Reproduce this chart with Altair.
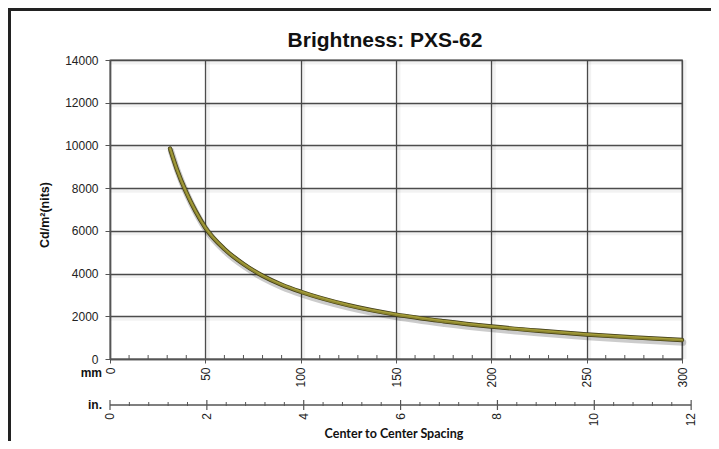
import altair as alt
import pandas as pd

# ---- data ----
spacing_mm = [31.5, 35, 40, 45, 50, 60, 70, 80, 90, 100, 125, 150, 175, 200, 225, 250, 275, 300]
brightness = [9850, 8900, 7800, 6900, 6150, 5150, 4450, 3900, 3480, 3150, 2520, 2080, 1770, 1520, 1320, 1150, 1010, 890]

mm_major = [0, 50, 100, 150, 200, 250, 300]
mm_minor = [v for v in range(10, 300, 10) if v % 50 != 0]
y_major = [0, 2000, 4000, 6000, 8000, 10000, 12000, 14000]
in_major = [0, 2, 4, 6, 8, 10, 12]
in_minor = [round(i * 0.4, 1) for i in range(1, 30) if round(i * 0.4, 1) % 2 != 0]

W, H = 572, 299
FONT = "Liberation Sans"

curve = pd.DataFrame({"mm": spacing_mm, "nits": brightness})
xs = alt.Scale(domain=[0, 300], nice=False, zero=False)
ys = alt.Scale(domain=[0, 14000], nice=False)

XAX = alt.Axis(values=mm_major, grid=True, gridColor="#4d4d4d", gridWidth=1.3,
               labelAngle=270, labelAlign="right", labelBaseline="middle", format="d",
               labelPadding=4, tickSize=4, tickColor="#555", domainColor="#555",
               domainWidth=1.5, labelFont=FONT, labelFontSize=12, labelColor="#222",
               title=None)
YAX = alt.Axis(values=y_major, grid=True, gridColor="#4d4d4d", gridWidth=1.3, format="d",
               tickSize=5, labelPadding=7, tickColor="#555", domainColor="#555",
               domainWidth=1.5, labelFont=FONT, labelFontSize=12, labelColor="#222",
               title=None)


def X(field):
    return alt.X(field, scale=xs, axis=XAX)


def Y(field):
    return alt.Y(field, scale=ys, axis=YAX)


# soft grid shadows
gx = pd.DataFrame({"mm": mm_major[1:]})
gy = pd.DataFrame({"nits": y_major[1:]})
shadow_v = alt.Chart(gx).mark_rule(color="#000", opacity=0.05, strokeWidth=4, xOffset=2.5).encode(
    x=X("mm:Q"))
shadow_h = alt.Chart(gy).mark_rule(color="#000", opacity=0.05, strokeWidth=4, yOffset=2.5).encode(
    y=Y("nits:Q"))

base = alt.Chart(curve)
line_shadow = base.mark_line(color="#000", opacity=0.2, strokeWidth=6.5, interpolate="monotone",
                             yOffset=2.5, xOffset=1, strokeCap="round").encode(x=X("mm:Q"), y=Y("nits:Q"))
line_dark = base.mark_line(color="#3f3b18", strokeWidth=4.4, interpolate="monotone",
                           strokeCap="round").encode(x=X("mm:Q"), y=Y("nits:Q"))
line_main = base.mark_line(color="#8c852f", strokeWidth=3, interpolate="monotone",
                           strokeCap="round").encode(x=X("mm:Q"), y=Y("nits:Q"))
line_hi = base.mark_line(color="#a9a23d", strokeWidth=1, interpolate="monotone",
                         yOffset=-0.5).encode(x=X("mm:Q"), y=Y("nits:Q"))

# mm minor ticks (inward)
mm_min_df = pd.DataFrame({"mm": mm_minor})
mm_ticks = alt.Chart(mm_min_df).mark_rule(color="#555", strokeWidth=1).encode(
    x=X("mm:Q"), y=alt.value(H - 4), y2=alt.value(H))

# inch axis
IN_Y = 345
in_line_df = pd.DataFrame({"mm": [0.0], "b": [12 * 25.4]})
in_line = alt.Chart(in_line_df).mark_rule(color="#555", strokeWidth=1.5).encode(
    x=X("mm:Q"), x2="b:Q", y=alt.value(IN_Y))
in_maj_df = pd.DataFrame({"inch": in_major})
in_maj_ticks = alt.Chart(in_maj_df).transform_calculate(mm="datum.inch * 25.4").mark_rule(
    color="#555", strokeWidth=1.2).encode(
    x=X("mm:Q"), y=alt.value(IN_Y - 5), y2=alt.value(IN_Y + 5))
in_min_df = pd.DataFrame({"inch": in_minor})
in_min_ticks = alt.Chart(in_min_df).transform_calculate(mm="datum.inch * 25.4").mark_rule(
    color="#555", strokeWidth=1).encode(
    x=X("mm:Q"), y=alt.value(IN_Y - 3), y2=alt.value(IN_Y + 1))
in_labels = alt.Chart(in_maj_df).transform_calculate(mm="datum.inch * 25.4").mark_text(
    angle=270, align="right", baseline="middle", font=FONT, fontSize=12, color="#222").encode(
    x=X("mm:Q"), y=alt.value(IN_Y + 8), text="inch:Q")

# titles and side labels
txt = pd.DataFrame({"t": ["Brightness: PXS-62"]})
title = alt.Chart(txt).mark_text(font=FONT, fontSize=21, fontWeight="bold", color="#111",
                                 baseline="alphabetic").encode(
    x=alt.value(275), y=alt.value(-13), text="t:N")
xt = pd.DataFrame({"t": ["Center to Center Spacing"]})
x_title = alt.Chart(xt).mark_text(font="Lato", fontSize=12.5, fontWeight="bold", color="#111",
                                  baseline="alphabetic").encode(
    x=alt.value(284), y=alt.value(378), text="t:N")
yt = pd.DataFrame({"t": ["Cd/m\u00b2(nits)"]})
y_title = alt.Chart(yt).mark_text(font=FONT, fontSize=12.5, fontWeight="bold", color="#111",
                                  angle=270, baseline="middle").encode(
    x=alt.value(-65), y=alt.value(155), text="t:N")
mmt = pd.DataFrame({"t": ["mm"]})
mm_label = alt.Chart(mmt).mark_text(font=FONT, fontSize=12, fontWeight="bold", color="#111",
                                    align="right", baseline="middle").encode(
    x=alt.value(-8), y=alt.value(313), text="t:N")
int_ = pd.DataFrame({"t": ["in."]})
in_label = alt.Chart(int_).mark_text(font=FONT, fontSize=12, fontWeight="bold", color="#111",
                                     align="right", baseline="middle").encode(
    x=alt.value(-8), y=alt.value(IN_Y), text="t:N")

# outer frame (left and top)
fr = pd.DataFrame({"k": [0]})
frame_left = alt.Chart(fr).mark_rule(color="#222", strokeWidth=3).encode(
    x=alt.value(-100.5), y=alt.value(-52), y2=alt.value(H + 90))
frame_top = alt.Chart(fr).mark_rule(color="#222", strokeWidth=3).encode(
    y=alt.value(-50.5), x=alt.value(-102), x2=alt.value(W + 30))

chart = alt.layer(
    line_shadow, shadow_v, shadow_h, line_dark, line_main, line_hi,
    mm_ticks, in_line, in_maj_ticks, in_min_ticks, in_labels,
    title, x_title, y_title, mm_label, in_label, frame_left, frame_top
).properties(
    width=W, height=H,
    autosize=alt.AutoSizeParams(type="none"),
    padding={"left": 102, "top": 52, "right": 29, "bottom": 82},
    background="white",
).configure_view(stroke="#555", strokeWidth=1.3)

chart.save("out.html", embed_options={"renderer": "svg", "actions": False})
